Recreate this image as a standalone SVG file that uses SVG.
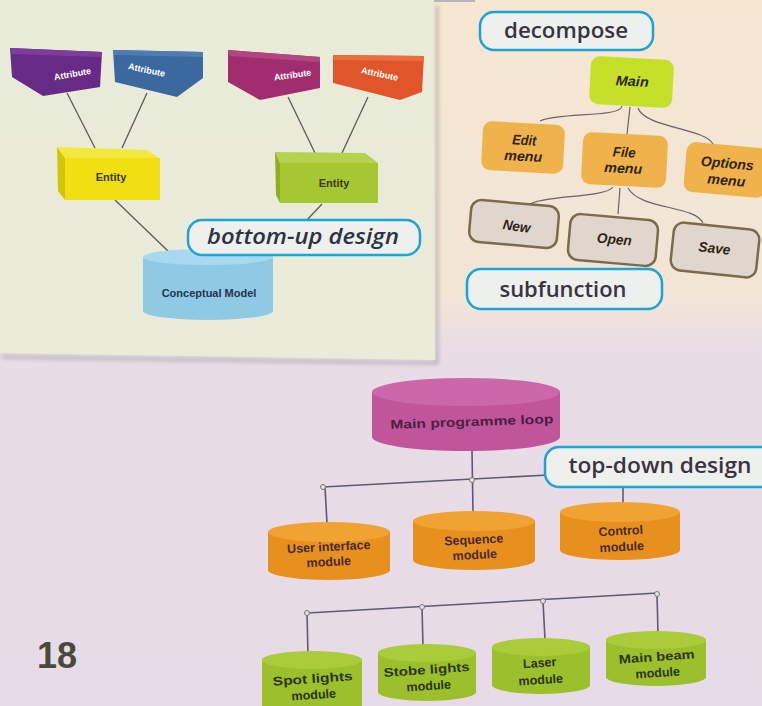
<svg xmlns="http://www.w3.org/2000/svg" width="762" height="706" viewBox="0 0 762 706">
<defs>
<linearGradient id="bg" x1="0" y1="0" x2="0" y2="1">
<stop offset="0" stop-color="#f5e7d2"/>
<stop offset="0.42" stop-color="#f3e5d6"/>
<stop offset="0.5" stop-color="#e8dce6"/>
<stop offset="1" stop-color="#e7dbe7"/>
</linearGradient>
<linearGradient id="panel" x1="0" y1="0" x2="0" y2="1">
<stop offset="0" stop-color="#e9ebd9"/>
<stop offset="1" stop-color="#eaebd8"/>
</linearGradient>
<filter id="sh" x="-5%" y="-5%" width="110%" height="110%"><feGaussianBlur stdDeviation="2"/></filter>
</defs>
<style>
.lbl{fill:#eef0ee;stroke:#1ea3d6;stroke-width:2.5}
.lt{font-family:"Open Sans","Liberation Sans",sans-serif;font-weight:600;font-size:21px;fill:#383440;text-anchor:middle}
.con{fill:none;stroke:#5c5a5a;stroke-width:1.3}
.tree{fill:none;stroke:#6a6070;stroke-width:1.2}
.hl{fill:none;stroke:#5e5a72;stroke-width:1.6}
.dot{fill:#e4e0e8;stroke:#777;stroke-width:1}
.att{font-family:"Liberation Sans",Arial,sans-serif;font-weight:bold;font-size:9px;fill:#ffffff;text-anchor:middle}
.ent{font-family:"Liberation Sans",Arial,sans-serif;font-weight:bold;font-size:11px;fill:#3a3818;text-anchor:middle}
.mt{font-family:"Liberation Sans",Arial,sans-serif;font-weight:bold;font-style:italic;font-size:14px;fill:#2e2414;text-anchor:middle}
.menu{stroke:none}
.sub{fill:#e1d6ce;stroke:#7b6a4c;stroke-width:2.5}
.ct{font-family:"Liberation Sans",Arial,sans-serif;font-weight:bold;font-size:12.5px;text-anchor:middle}
</style>
<rect width="762" height="706" fill="url(#bg)"/>
<rect x="0" y="0" width="88" height="3" fill="#8c84a8"/>
<rect x="355" y="0" width="120" height="2" fill="#b8b4b8"/>
<!-- panel -->
<polygon points="2,356 436,362 436,6 438,6 438,364 2,358" fill="#a09aa0" filter="url(#sh)"/>
<polygon points="0,0 434,0 435,360 0,353" fill="url(#panel)"/>

<g id="connectors">
<line class="con" x1="67" y1="93" x2="95" y2="148"/>
<line class="con" x1="147" y1="93" x2="122" y2="148"/>
<line class="con" x1="288" y1="97" x2="315" y2="153"/>
<line class="con" x1="368" y1="97" x2="342" y2="153"/>
<line class="con" x1="115" y1="200" x2="168" y2="251"/>
<line class="con" x1="322" y1="204" x2="305" y2="222"/>
<path class="tree" d="M622,106 C620,118 560,112 540,121"/>
<path class="tree" d="M630,107 L627,134"/>
<path class="tree" d="M638,108 C645,128 705,128 713,144"/>
<path class="tree" d="M613,187 C605,198 545,195 530,204"/>
<path class="tree" d="M620,188 L618,214"/>
<path class="tree" d="M628,188 C640,210 695,205 703,223"/>
<line class="hl" x1="472" y1="450" x2="473" y2="512"/>
<line class="hl" x1="323" y1="487" x2="548" y2="475"/>
<line class="hl" x1="325" y1="487" x2="327" y2="523"/>
<line class="hl" x1="623" y1="486" x2="623" y2="504"/>
<line class="hl" x1="307" y1="613" x2="658" y2="593"/>
<line class="hl" x1="307" y1="613" x2="308" y2="655"/>
<line class="hl" x1="422" y1="607" x2="423" y2="647"/>
<line class="hl" x1="543" y1="601" x2="545" y2="640"/>
<line class="hl" x1="657" y1="594" x2="658" y2="633"/>
<circle class="dot" cx="323" cy="487" r="2.5"/>
<circle class="dot" cx="472" cy="480" r="2.5"/>
<circle class="dot" cx="307" cy="613" r="2.5"/>
<circle class="dot" cx="422" cy="607" r="2.5"/>
<circle class="dot" cx="543" cy="601" r="2.5"/>
<circle class="dot" cx="657" cy="594" r="2.5"/>
</g>

<!-- bottom-up ER diagram -->
<g id="attr1">
<polygon points="10,48 102,52 100,87 43,96 12,77" fill="#672a86"/>
<polygon points="10,48 102,52 101,57 11,54" fill="#7e3d9c"/>
<text class="att" x="73" y="77" transform="rotate(-10 73 77)">Attribute</text>
</g>
<g id="attr2">
<polygon points="113,50 203,52 203,78 177,97 115,82" fill="#3c68a0"/>
<polygon points="113,50 203,52 203,57 114,55" fill="#4e7cb4"/>
<text class="att" x="146" y="73" transform="rotate(12 146 73)">Attribute</text>
</g>
<g id="attr3">
<polygon points="228,50 320,57 320,88 260,100 228,82" fill="#a02e6e"/>
<polygon points="228,50 320,57 320,62 229,56" fill="#b44482"/>
<text class="att" x="293" y="78" transform="rotate(-8 293 78)">Attribute</text>
</g>
<g id="attr4">
<polygon points="333,55 424,56 422,92 400,100 333,83" fill="#e0562a"/>
<polygon points="333,55 424,56 424,61 333,60" fill="#ec6e3e"/>
<text class="att" x="379" y="77" transform="rotate(12 379 77)">Attribute</text>
</g>
<g id="entity1">
<polygon points="57,147 147,150 160,159 65,158" fill="#f4e83c"/>
<polygon points="57,147 65,158 65,200 58,191" fill="#d4c408"/>
<rect x="65" y="158" width="95" height="42" fill="#f0df12"/>
<text class="ent" x="111" y="181">Entity</text>
</g>
<g id="entity2">
<polygon points="275,152 365,153 378,163 280,163" fill="#b6d24c"/>
<polygon points="275,152 280,163 280,203 276,195" fill="#8eae22"/>
<rect x="280" y="163" width="98" height="40" fill="#a6c632"/>
<text class="ent" x="334" y="187">Entity</text>
</g>
<g id="conceptual">
<path d="M143,257 L143,311 A65,9 0 0 0 273,311 L273,257 Z" fill="#8ecae4"/>
<ellipse cx="208" cy="257" rx="65" ry="8" fill="#a8d9ee"/>
<text class="ent" x="209" y="297" fill="#2a3050" style="fill:#2a3050">Conceptual Model</text>
</g>
<g id="bottomup">
<rect class="lbl" x="188" y="220" width="232" height="35" rx="14"/>
<text class="lt" x="303" y="244" font-style="italic" textLength="192" lengthAdjust="spacingAndGlyphs" style="fill:#2c3444">bottom-up design</text>
</g>

<!-- decompose tree -->
<g id="decompose">
<rect class="lbl" x="480" y="12" width="173" height="38" rx="14"/>
<text class="lt" x="566" y="38" textLength="124" lengthAdjust="spacingAndGlyphs">decompose</text>
</g>
<g id="main">
<rect x="590" y="58" width="83" height="48" rx="9" fill="#c6e02a" transform="rotate(3 631 82)"/>
<text class="mt" x="632" y="86" transform="rotate(3 632 86)" textLength="33" lengthAdjust="spacingAndGlyphs">Main</text>
</g>
<g id="editmenu">
<rect x="482" y="123" width="82" height="49" rx="9" fill="#f0b24a" transform="rotate(3 523 148)"/>
<text class="mt" x="524" y="145" transform="rotate(3 524 145)" textLength="24" lengthAdjust="spacingAndGlyphs">Edit</text>
<text class="mt" x="523" y="161" transform="rotate(3 523 161)" textLength="38" lengthAdjust="spacingAndGlyphs">menu</text>
</g>
<g id="filemenu">
<rect x="582" y="134" width="85" height="52" rx="9" fill="#f0b24a" transform="rotate(3 624 160)"/>
<text class="mt" x="624" y="157" transform="rotate(3 624 157)" textLength="23" lengthAdjust="spacingAndGlyphs">File</text>
<text class="mt" x="623" y="173" transform="rotate(3 623 173)" textLength="38" lengthAdjust="spacingAndGlyphs">menu</text>
</g>
<g id="optionsmenu">
<rect x="685" y="145" width="82" height="50" rx="9" fill="#f0b24a" transform="rotate(5 726 170)"/>
<text class="mt" x="727" y="168" transform="rotate(5 727 168)" textLength="53" lengthAdjust="spacingAndGlyphs">Options</text>
<text class="mt" x="726" y="185" transform="rotate(5 726 185)" textLength="38" lengthAdjust="spacingAndGlyphs">menu</text>
</g>
<g id="new">
<rect class="sub" x="470" y="203" width="88" height="42" rx="10" transform="rotate(5 514 224)"/>
<text class="mt" x="516" y="231" transform="rotate(8 516 231)" textLength="28" lengthAdjust="spacingAndGlyphs">New</text>
</g>
<g id="open">
<rect class="sub" x="569" y="217" width="88" height="46" rx="10" transform="rotate(5 613 240)"/>
<text class="mt" x="614" y="244" transform="rotate(5 614 244)" textLength="35" lengthAdjust="spacingAndGlyphs">Open</text>
</g>
<g id="save">
<rect class="sub" x="672" y="226" width="86" height="48" rx="10" transform="rotate(6 715 250)"/>
<text class="mt" x="714" y="253" transform="rotate(6 714 253)" textLength="32" lengthAdjust="spacingAndGlyphs">Save</text>
</g>
<g id="subfunction">
<rect class="lbl" x="467" y="269" width="195" height="40" rx="14"/>
<text class="lt" x="563" y="297" textLength="127" lengthAdjust="spacingAndGlyphs">subfunction</text>
</g>

<!-- top-down design -->
<g id="mainloop">
<path d="M372,392 L372,437 A94,14 0 0 0 560,437 L560,392 Z" fill="#c0559c"/>
<ellipse cx="466" cy="392" rx="94" ry="14" fill="#cc68aa"/>
<text class="ct" x="472" y="426" transform="rotate(-2 472 426)" style="fill:#4c1e44" textLength="163" lengthAdjust="spacingAndGlyphs">Main programme loop</text>
</g>
<g id="topdown">
<rect class="lbl" x="545" y="447" width="232" height="40" rx="14"/>
<text class="lt" x="660" y="473" textLength="183" lengthAdjust="spacingAndGlyphs">top-down design</text>
</g>
<g id="uimodule">
<path d="M268,532 L268,570 A61,10 0 0 0 390,570 L390,532 Z" fill="#e8901e"/>
<ellipse cx="329" cy="532" rx="61" ry="10" fill="#f0a232"/>
<text class="ct" x="329" y="551" transform="rotate(-3 329 551)" style="fill:#4a2a30">User interface</text>
<text class="ct" x="329" y="566" transform="rotate(-3 329 566)" style="fill:#4a2a30">module</text>
</g>
<g id="seqmodule">
<path d="M413,521 L413,560 A61,10 0 0 0 535,560 L535,521 Z" fill="#e8901e"/>
<ellipse cx="474" cy="521" rx="61" ry="10" fill="#f0a232"/>
<text class="ct" x="474" y="544" transform="rotate(-3 474 544)" style="fill:#4a2a30">Sequence</text>
<text class="ct" x="475" y="559" transform="rotate(-3 475 559)" style="fill:#4a2a30">module</text>
</g>
<g id="ctrlmodule">
<path d="M560,512 L560,550 A60,10 0 0 0 680,550 L680,512 Z" fill="#e8901e"/>
<ellipse cx="620" cy="512" rx="60" ry="10" fill="#f0a232"/>
<text class="ct" x="621" y="535" transform="rotate(-3 621 535)" style="fill:#4a2a30">Control</text>
<text class="ct" x="622" y="551" transform="rotate(-3 622 551)" style="fill:#4a2a30">module</text>
</g>
<g id="spot">
<path d="M262,660 L262,712 A50,9 0 0 0 362,712 L362,660 Z" fill="#9cc02c"/>
<ellipse cx="312" cy="660" rx="50" ry="9" fill="#aacc3a"/>
<text class="ct" x="313" y="683" transform="rotate(-4 313 683)" style="fill:#2c3414" textLength="80" lengthAdjust="spacingAndGlyphs">Spot lights</text>
<text class="ct" x="314" y="699" transform="rotate(-4 314 699)" style="fill:#2c3414">module</text>
</g>
<g id="stobe">
<path d="M378,653 L378,692 A49,9 0 0 0 476,692 L476,653 Z" fill="#9cc02c"/>
<ellipse cx="427" cy="653" rx="49" ry="9" fill="#aacc3a"/>
<text class="ct" x="427" y="674" transform="rotate(-4 427 674)" style="fill:#2c3414" textLength="86" lengthAdjust="spacingAndGlyphs">Stobe lights</text>
<text class="ct" x="429" y="690" transform="rotate(-4 429 690)" style="fill:#2c3414">module</text>
</g>
<g id="laser">
<path d="M492,647 L492,685 A49,9 0 0 0 590,685 L590,647 Z" fill="#9cc02c"/>
<ellipse cx="541" cy="647" rx="49" ry="9" fill="#aacc3a"/>
<text class="ct" x="540" y="667" transform="rotate(-4 540 667)" style="fill:#2c3414">Laser</text>
<text class="ct" x="541" y="684" transform="rotate(-4 541 684)" style="fill:#2c3414">module</text>
</g>
<g id="mainbeam">
<path d="M606,640 L606,677 A50,9 0 0 0 706,677 L706,640 Z" fill="#9cc02c"/>
<ellipse cx="656" cy="640" rx="50" ry="9" fill="#aacc3a"/>
<text class="ct" x="657" y="661" transform="rotate(-4 657 661)" style="fill:#2c3414" textLength="76" lengthAdjust="spacingAndGlyphs">Main beam</text>
<text class="ct" x="658" y="677" transform="rotate(-4 658 677)" style="fill:#2c3414">module</text>
</g>
<text x="37" y="668" font-family="Liberation Sans, Arial, sans-serif" font-weight="bold" font-size="36" fill="#4a4a3c" textLength="40" lengthAdjust="spacingAndGlyphs">18</text>
</svg>
